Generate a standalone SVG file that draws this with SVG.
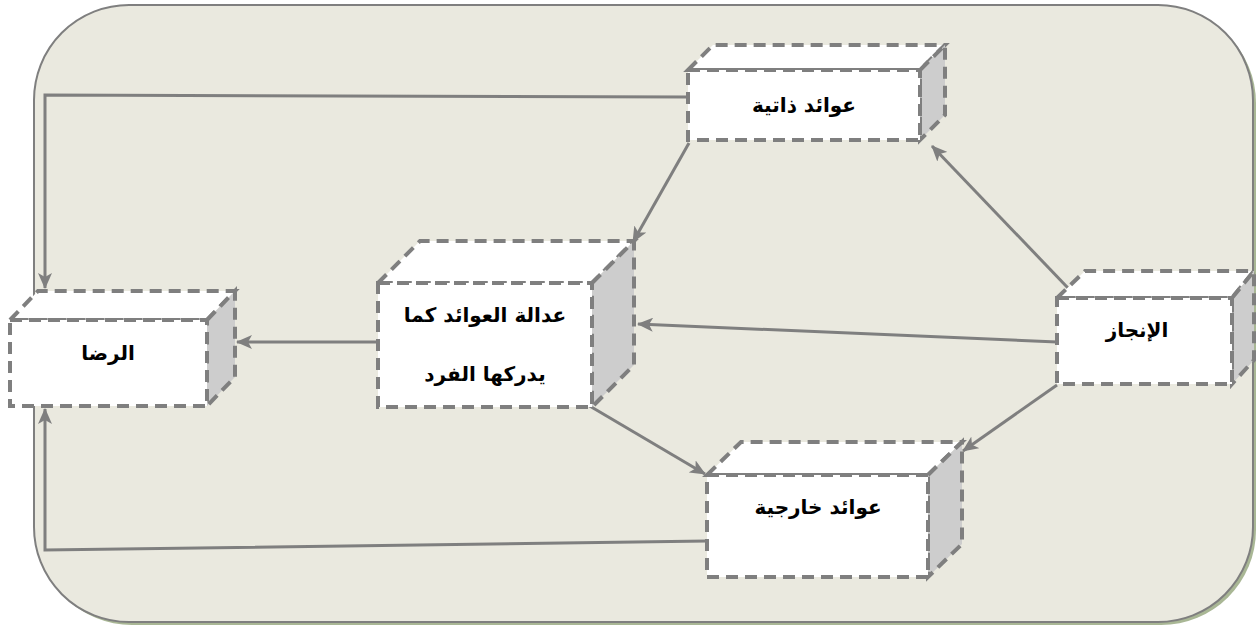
<svg xmlns="http://www.w3.org/2000/svg" width="1256" height="630" viewBox="0 0 1256 630">
<defs>
<style>
.front{fill:#ffffff;stroke:#7f7f7f;stroke-width:4;stroke-dasharray:12 7}
.top{fill:#ffffff;stroke:#7f7f7f;stroke-width:4;stroke-dasharray:12 7;stroke-linejoin:miter}
.side{fill:#cdcdcd;stroke:#7f7f7f;stroke-width:4;stroke-dasharray:12 7}
.lbl{font-family:"DejaVu Sans","Noto Sans",sans-serif;font-weight:bold;font-size:20px;fill:#000;text-anchor:middle}
.conn{fill:none;stroke:#7f7f7f;stroke-width:3}
</style>
<marker id="arr" markerWidth="16" markerHeight="14" refX="15" refY="7" orient="auto" markerUnits="userSpaceOnUse">
<path d="M0,0 L16,7 L0,14 L4,7 Z" fill="#7f7f7f"/>
</marker>
</defs>
<g id="background">
<rect x="37" y="8" width="1219" height="617" rx="95" ry="95" fill="#a9b795"/>
<rect x="34" y="5" width="1219" height="617" rx="95" ry="95" fill="#eae9df" stroke="#7f7f7f" stroke-width="2"/>
</g>
<g id="connectors">
<polyline class="conn" points="688,97 45,95 45,288" marker-end="url(#arr)"/>
<polyline class="conn" points="707,541 45,550 45,409" marker-end="url(#arr)"/>
<line class="conn" x1="378" y1="342" x2="237" y2="342" marker-end="url(#arr)"/>
<line class="conn" x1="1057" y1="342" x2="638" y2="324" marker-end="url(#arr)"/>
<line class="conn" x1="1068" y1="288" x2="932" y2="146" marker-end="url(#arr)"/>
<line class="conn" x1="1057" y1="385" x2="963" y2="451" marker-end="url(#arr)"/>
<line class="conn" x1="689" y1="143" x2="633" y2="242" marker-end="url(#arr)"/>
<line class="conn" x1="588" y1="405" x2="705" y2="474" marker-end="url(#arr)"/>
</g>
<g id="node-dhatiya">
<polygon class="top" points="688,70 713,45 945,45 920,70"/>
<polygon class="side" points="920,70 945,45 945,115 920,140"/>
<rect class="front" x="688" y="70" width="232" height="70"/>
<text class="lbl" x="804" y="112">عوائد ذاتية</text>
</g>
<g id="node-adala">
<polygon class="top" points="378,283 420,241 634,241 592,283"/>
<polygon class="side" points="592,283 634,241 634,365 592,407"/>
<rect class="front" x="378" y="283" width="214" height="124"/>
<text class="lbl" x="485" y="322">عدالة العوائد كما</text>
<text class="lbl" x="485" y="381">يدركها الفرد</text>
</g>
<g id="node-rida">
<polygon class="top" points="10,320 38,291 235,291 207,320"/>
<polygon class="side" points="207,320 235,291 235,377 207,406"/>
<rect class="front" x="10" y="320" width="197" height="86"/>
<text class="lbl" x="108" y="360">الرضا</text>
</g>
<g id="node-injaz">
<polygon class="top" points="1057,298 1085,271 1254,271 1232,298"/>
<polygon class="side" points="1232,298 1254,271 1254,360 1232,384"/>
<rect class="front" x="1057" y="298" width="175" height="86"/>
<text class="lbl" x="1137" y="337">الإنجاز</text>
</g>
<g id="node-kharijiya">
<polygon class="top" points="707,475 741,442 962,442 928,475"/>
<polygon class="side" points="928,475 962,442 962,544 928,577"/>
<rect class="front" x="707" y="475" width="221" height="102"/>
<text class="lbl" x="818" y="514">عوائد خارجية</text>
</g>
</svg>
